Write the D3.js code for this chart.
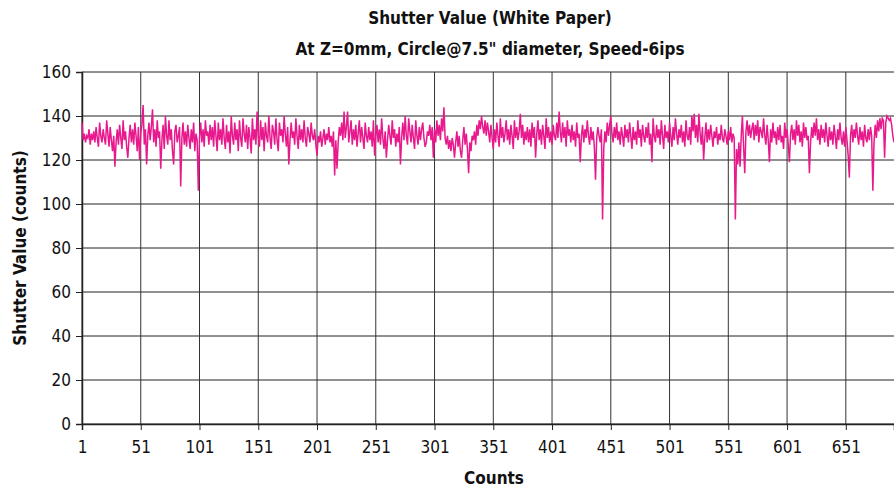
<!DOCTYPE html>
<html>
<head>
<meta charset="utf-8">
<script src="https://cdn.jsdelivr.net/npm/d3@7"></script>
<style>
    body { margin: 0; background: #fff; }
    svg text { font-family: "Liberation Sans Narrow", "DejaVu Sans Condensed", sans-serif; fill: #111; }
</style>
</head>
<body>
<svg width="894" height="489"></svg>
<script>
var titleLines = ["Shutter Value (White Paper)", "At Z=0mm, Circle@7.5\" diameter, Speed-6ips"];
var xLabel = "Counts";
var yLabel = "Shutter Value (counts)";
var xTicks = [1, 51, 101, 151, 201, 251, 301, 351, 401, 451, 501, 551, 601, 651];
var yTicks = [0, 20, 40, 60, 80, 100, 120, 140, 160];

// shutter readings, one per count
var shutterValues = [
    137,129,132,128,131,130,134,127,132,129, 133,128,135,130,126,137,131,128,134,130,
    127,138,132,126,135,129,124,131,117,128, 134,127,136,130,125,138,129,133,126,121,
    130,136,128,134,127,137,131,124,135,120, 132,136,145,127,134,118,131,137,129,135,
    143,128,134,126,138,130,133,116,129,136, 125,140,131,127,138,129,134,124,118,133,
    136,128,131,135,108,130,137,127,133,126, 136,130,125,134,128,137,124,132,129,106,
    130,137,128,134,126,138,131,133,127,136, 129,135,126,138,131,124,137,129,134,127,
    139,130,125,136,128,133,123,140,131,127, 137,129,134,124,138,130,126,139,132,128,
    136,125,135,130,123,139,129,134,127,142, 131,126,138,129,135,124,137,131,128,140,
    130,125,136,133,127,139,129,124,137,131, 134,128,140,132,126,135,118,129,137,130,
    133,127,139,131,125,136,129,134,128,138, 130,126,135,132,128,137,131,129,134,127,
    122,131,128,133,126,130,134,127,132,129, 135,128,131,126,133,113,129,116,128,135,
    131,137,129,142,130,135,142,128,133,138, 127,134,129,136,126,132,138,128,135,130,
    125,137,131,128,135,129,133,126,138,122, 131,136,128,134,127,139,130,125,133,121,
    129,136,131,127,138,130,134,126,132,128, 135,118,130,137,129,140,131,127,139,133,
    128,136,130,125,138,131,127,135,129,134, 137,130,126,128,133,131,136,129,135,121,
    134,128,138,131,136,129,139,133,144,130, 127,131,125,129,124,130,127,121,128,133,
    126,131,124,121,129,135,127,132,125,114, 128,124,131,129,133,127,136,131,138,134,
    140,135,132,138,131,137,133,128,136,130, 125,134,128,137,131,126,139,130,135,128,
    132,138,129,134,127,136,131,125,138,130, 135,129,133,141,130,136,127,133,129,135,
    128,134,126,137,130,135,121,132,138,129, 134,127,136,131,125,139,130,135,128,133,
    127,136,131,129,137,130,142,133,128,137, 130,135,126,138,131,134,128,136,129,133,
    126,137,130,132,119,131,136,128,134,130, 138,131,127,135,129,133,126,111,130,135,
    131,128,134,93,125,133,128,137,131,136, 140,132,128,135,130,137,129,133,127,135,
    131,126,136,130,134,128,137,131,125,135, 129,133,127,138,130,134,126,136,131,128,
    135,130,137,127,132,119,139,131,128,136, 130,134,127,138,131,125,136,130,133,128,
    137,131,126,135,129,139,132,127,134,130, 136,128,133,126,138,131,129,135,127,140,
    133,141,130,136,128,141,132,127,135,120, 130,137,128,134,129,136,131,126,133,130,
    135,127,132,129,136,130,128,134,131,127, 133,129,135,128,132,130,93,125,118,128,
    117,131,140,126,114,133,138,131,136,130, 134,137,129,136,131,138,128,135,133,130,
    139,131,127,136,129,119,134,128,137,130, 133,127,135,129,136,128,131,125,137,130,
    134,127,119,132,136,129,134,127,138,131, 136,128,133,126,137,130,135,129,131,114,
    128,135,130,137,131,139,129,134,127,136, 130,134,128,137,131,126,135,129,133,127,
    136,131,125,134,129,137,130,127,133,126, 135,129,122,112,131,136,128,134,130,137,
    131,127,135,129,133,126,136,130,128,134, 129,135,131,106,128,136,130,138,133,139,
    134,139,138,121,137,140,139,138,139,136, 131,128
];

var svg = d3.select("svg"),
    margin = { top: 72, right: 0, bottom: 65, left: 82 },
    width = +svg.attr("width") - margin.left - margin.right,
    height = +svg.attr("height") - margin.top - margin.bottom;

var data = shutterValues.map(function (v, i) {
    return { count: i + 1, value: v };
});

var x = d3.scaleLinear().domain([1, data.length]).range([0, width]);
var y = d3.scaleLinear().domain([0, 160]).range([height, 0]);

var g = svg.append("g")
    .attr("transform", "translate(" + margin.left + "," + margin.top + ")");

// grid
g.append("g")
    .selectAll("line.h")
    .data(yTicks)
    .enter().append("line")
    .attr("x1", 0).attr("x2", width)
    .attr("y1", function (d) { return y(d); })
    .attr("y2", function (d) { return y(d); })
    .attr("stroke", "#222").attr("stroke-width", 1);

g.append("g")
    .selectAll("line.v")
    .data(xTicks)
    .enter().append("line")
    .attr("x1", function (d) { return x(d); })
    .attr("x2", function (d) { return x(d); })
    .attr("y1", 0).attr("y2", height)
    .attr("stroke", "#333").attr("stroke-width", 1);

// axes
var yAxis = g.append("g")
    .call(d3.axisLeft(y).tickValues(yTicks).tickSize(6).tickPadding(5));
var xAxis = g.append("g")
    .attr("transform", "translate(0," + height + ")")
    .call(d3.axisBottom(x).tickValues(xTicks).tickSize(6).tickPadding(11));

[xAxis, yAxis].forEach(function (a) {
    a.select(".domain").attr("stroke", "#222").attr("stroke-width", 1.5);
    a.selectAll(".tick line").attr("stroke", "#222");
    a.selectAll("text").style("font-size", "17px").attr("fill", "#111");
});

// line
g.append("path")
    .datum(data)
    .attr("fill", "none")
    .attr("stroke", "#e8198c")
    .attr("stroke-width", 1.5)
    .attr("d", d3.line()
        .x(function (d) { return x(d.count); })
        .y(function (d) { return y(d.value); }));

// titles
svg.selectAll("text.title")
    .data(titleLines)
    .enter().append("text")
    .attr("x", 490)
    .attr("y", function (d, i) { return 24 + i * 31; })
    .attr("text-anchor", "middle")
    .style("font-size", "17px")
    .style("font-weight", "bold")
    .text(function (d) { return d; });

svg.append("text")
    .attr("x", 494).attr("y", 484)
    .attr("text-anchor", "middle")
    .style("font-size", "17px")
    .style("font-weight", "bold")
    .text(xLabel);

svg.append("text")
    .attr("transform", "translate(26," + (margin.top + height / 2) + ") rotate(-90)")
    .attr("text-anchor", "middle")
    .style("font-size", "17px")
    .style("font-weight", "bold")
    .text(yLabel);
</script>
</body>
</html>
